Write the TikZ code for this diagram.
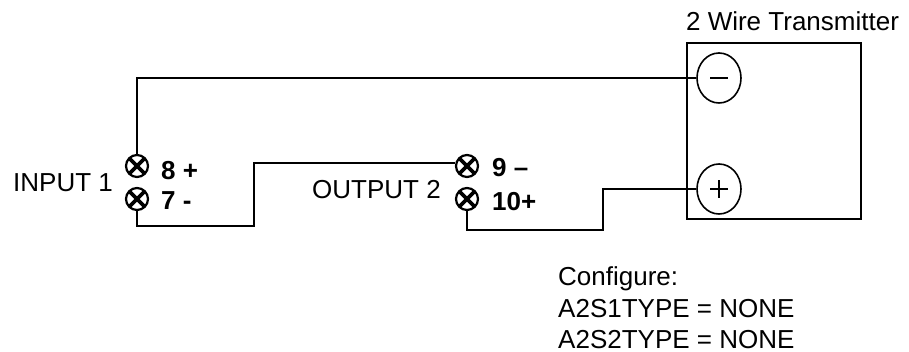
\documentclass[tikz,border=0pt]{standalone}
\usepackage{fontspec}
\setmainfont{Liberation Sans}
\usetikzlibrary{shapes,calc,positioning}

\newcommand{\lblsize}{\fontsize{26}{31}\selectfont}

\tikzset{
  wire/.style={line width=2pt},
  screw/.style={draw,circle,line width=2.2pt,minimum size=22pt,inner sep=0pt,
    path picture={\draw[line width=3.6pt]
      (path picture bounding box.north west) -- (path picture bounding box.south east)
      (path picture bounding box.south west) -- (path picture bounding box.north east);}},
  pin/.style={draw,ellipse,line width=1.6pt,minimum width=44pt,minimum height=50pt,inner sep=0pt},
  lbl/.style={font=\lblsize,inner sep=0pt,anchor=base west},
  tag/.style={font=\lblsize\bfseries,inner sep=0pt,anchor=base west}
}

\begin{document}
\begin{tikzpicture}[x=1pt,y=-1pt]
  \useasboundingbox (0,0) rectangle (909,352);

  \node[draw,rectangle,line width=2.2pt,minimum width=174pt,minimum height=176pt] (tx) at (774,131) {};
  \node[lbl] (title) at ([yshift=11pt]tx.north west) {2 Wire Transmitter};

  \node[pin] (minus) at (719,78) {};
  \node[pin] (plus) at (719,189) {};
  \draw[line width=1.3pt] ([xshift=-9pt]minus.center) -- ([xshift=9pt]minus.center);
  \draw[line width=1.3pt] ([xshift=-9pt]plus.center) -- ([xshift=9pt]plus.center)
                          ([yshift=-9pt]plus.center) -- ([yshift=9pt]plus.center);

  \node[screw] (s8) at (137,166) {};
  \node[screw] (s7) at (137,199) {};
  \node[screw] (s9) at (467,166) {};
  \node[screw] (s10) at (467,199) {};

  \node[tag] (l8) at ($(s8)+(24,14)$) {8 +};
  \node[tag] (l7) at ($(s7)+(24,11)$) {7 -};
  \node[tag] (l9) at ($(s9)+(25,11)$) {9 –};
  \node[tag] (l10) at ($(s10)+(25,12)$) {10+};

  \node[lbl] (in1) at (13,192) {INPUT 1};
  \node[lbl] (out2) at (312,199) {OUTPUT 2};

  \node[lbl] (cfg1) at (558,286) {Configure:};
  \node[lbl] (cfg2) at ([yshift=-31pt]cfg1.base west) {A2S1TYPE = NONE};
  \node[lbl] (cfg3) at ([yshift=-31pt]cfg2.base west) {A2S2TYPE = NONE};

  \coordinate (k1) at (254,226);
  \coordinate (k2) at (603,230);

  \draw[wire] (s8.north) |- (minus.west);
  \draw[wire] (s7.south) |- (k1) |- (s9.165);
  \draw[wire] (s10.south) |- (k2) |- (plus.west);
\end{tikzpicture}
\end{document}
